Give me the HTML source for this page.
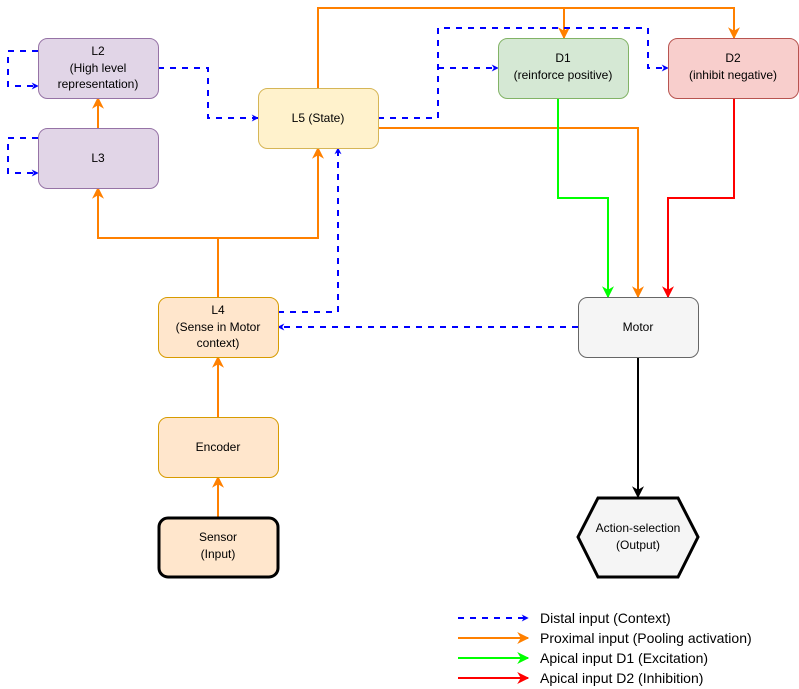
<!DOCTYPE html>
<html><head><meta charset="utf-8"><style>
html,body{margin:0;padding:0;background:#fff;}
svg{display:block;font-family:"Liberation Sans",Arial,sans-serif;}
</style></head><body>
<svg width="799" height="689" viewBox="0 0 799 689" xmlns="http://www.w3.org/2000/svg">
<defs>
<marker id="ab" viewBox="0 0 10 10" refX="9" refY="5" markerWidth="7" markerHeight="7" orient="auto" markerUnits="userSpaceOnUse"><path d="M0,0 L10,5 L0,10 L3,5 z" fill="#0000ff"/></marker>
<marker id="ao" viewBox="0 0 10 10" refX="9" refY="5" markerWidth="12" markerHeight="12" orient="auto" markerUnits="userSpaceOnUse"><path d="M0,0 L10,5 L0,10 L3,5 z" fill="#ff8000"/></marker>
<marker id="ag" viewBox="0 0 10 10" refX="9" refY="5" markerWidth="12" markerHeight="12" orient="auto" markerUnits="userSpaceOnUse"><path d="M0,0 L10,5 L0,10 L3,5 z" fill="#00ff00"/></marker>
<marker id="ar" viewBox="0 0 10 10" refX="9" refY="5" markerWidth="12" markerHeight="12" orient="auto" markerUnits="userSpaceOnUse"><path d="M0,0 L10,5 L0,10 L3,5 z" fill="#ff0000"/></marker>
<marker id="ak" viewBox="0 0 10 10" refX="9" refY="5" markerWidth="12" markerHeight="12" orient="auto" markerUnits="userSpaceOnUse"><path d="M0,0 L10,5 L0,10 L3,5 z" fill="#000"/></marker>
</defs>
<g fill="none" stroke-width="2">
<!-- orange -->
<g stroke="#ff8000">
<polyline points="318,88 318,8 734,8 734,38" marker-end="url(#ao)"/>
<polyline points="564,8 564,38" marker-end="url(#ao)"/>
<polyline points="378,128 638,128 638,297" marker-end="url(#ao)"/>
<polyline points="218,297 218,238 98,238 98,188" marker-end="url(#ao)"/>
<polyline points="218,238 318,238 318,148" marker-end="url(#ao)"/>
<polyline points="98,128 98,98" marker-end="url(#ao)"/>
<polyline points="218,417 218,357" marker-end="url(#ao)"/>
<polyline points="218,517 218,477" marker-end="url(#ao)"/>
<line x1="458" y1="638" x2="528" y2="638" marker-end="url(#ao)"/>
</g>
<g stroke="#00ff00">
<polyline points="558,98 558,198 608,198 608,297" marker-end="url(#ag)"/>
<line x1="458" y1="658" x2="528" y2="658" marker-end="url(#ag)"/>
</g>
<g stroke="#ff0000">
<polyline points="734,98 734,198 668,198 668,297" marker-end="url(#ar)"/>
<line x1="458" y1="678" x2="528" y2="678" marker-end="url(#ar)"/>
</g>
<g stroke="#000">
<polyline points="638,357 638,497" marker-end="url(#ak)"/>
</g>
<g stroke="#0000ff" stroke-dasharray="6,6">
<polyline points="38,51 8,51 8,86 38,86" marker-end="url(#ab)"/>
<polyline points="38,138 8,138 8,173 38,173" marker-end="url(#ab)"/>
<polyline points="158,68 208,68 208,118 258,118" marker-end="url(#ab)"/>
<polyline points="378,118 438,118 438,28 648,28 648,68 668,68" marker-end="url(#ab)"/>
<polyline points="438,68 498,68" marker-end="url(#ab)"/>
<polyline points="278,312 338,312 338,148" marker-end="url(#ab)"/>
<polyline points="578,327 278,327" marker-end="url(#ab)"/>
<line x1="458" y1="618" x2="528" y2="618" marker-end="url(#ab)"/>
</g>
</g>
<!-- nodes -->
<g stroke-width="1">
<rect x="38.5" y="38.5" width="120" height="60" rx="9" fill="#e1d5e7" stroke="#9673a6"/>
<rect x="38.5" y="128.5" width="120" height="60" rx="9" fill="#e1d5e7" stroke="#9673a6"/>
<rect x="258.5" y="88.5" width="120" height="60" rx="9" fill="#fff2cc" stroke="#d6b656"/>
<rect x="498.5" y="38.5" width="130" height="60" rx="9" fill="#d5e8d4" stroke="#82b366"/>
<rect x="668.5" y="38.5" width="130" height="60" rx="9" fill="#f8cecc" stroke="#b85450"/>
<rect x="158.5" y="297.5" width="120" height="60" rx="9" fill="#ffe6cc" stroke="#d79b00"/>
<rect x="158.5" y="417.5" width="120" height="60" rx="9" fill="#ffe6cc" stroke="#d79b00"/>
<rect x="578.5" y="297.5" width="120" height="60" rx="9" fill="#f5f5f5" stroke="#666"/>
</g>
<rect x="159" y="518" width="119" height="59" rx="9" fill="#ffe6cc" stroke="#000" stroke-width="3"/>
<polygon points="598,498 678,498 698,537 678,577 598,577 578,537" fill="#f5f5f5" stroke="#000" stroke-width="3"/>
<g font-size="12" fill="#000" text-anchor="middle">
<text x="98" y="55">L2</text><text x="98" y="72">(High level</text><text x="98" y="88">representation)</text>
<text x="98" y="162">L3</text>
<text x="318" y="122">L5 (State)</text>
<text x="563" y="62">D1</text><text x="563" y="79">(reinforce positive)</text>
<text x="733" y="62">D2</text><text x="733" y="79">(inhibit negative)</text>
<text x="218" y="314">L4</text><text x="218" y="331">(Sense in Motor</text><text x="218" y="347">context)</text>
<text x="218" y="451">Encoder</text>
<text x="218" y="541">Sensor</text><text x="218" y="558">(Input)</text>
<text x="638" y="331">Motor</text>
<text x="638" y="532">Action-selection</text><text x="638" y="549">(Output)</text>
</g>
<g font-size="14" fill="#000">
<text x="540" y="623">Distal input (Context)</text>
<text x="540" y="643">Proximal input (Pooling activation)</text>
<text x="540" y="663">Apical input D1 (Excitation)</text>
<text x="540" y="683">Apical input D2 (Inhibition)</text>
</g>
</svg>
</body></html>
